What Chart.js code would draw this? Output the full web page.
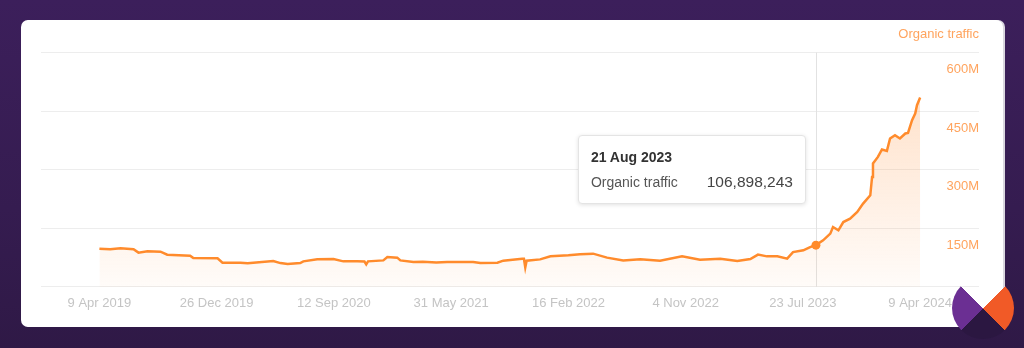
<!DOCTYPE html>
<html>
<head>
<meta charset="utf-8">
<script src="https://cdn.jsdelivr.net/npm/chart.js@4"></script>
<style>
  html, body { margin: 0; padding: 0; }
  body {
    width: 1024px; height: 348px; overflow: hidden; position: relative;
    background: linear-gradient(180deg, #3c1f5b 0%, #351c50 60%, #2f1946 100%);
    font-family: "Liberation Sans", Arial, sans-serif;
  }
  #card {
    position: absolute; left: 21px; top: 20px; width: 982px; height: 307px;
    background: #fff; border-radius: 7px; box-shadow: 2px 0 0 #d9d6de;
  }
  #chart { position: absolute; left: 0; top: 0; }
  #tip {
    position: absolute; display: none; box-sizing: border-box; width: 228px;
    padding: 11px 12px 11px 12px; background: #fff; border: 1px solid #e4e4e4;
    border-radius: 4px; box-shadow: 0 1px 4px rgba(0,0,0,0.12);
  }
  #tip .t { font-size: 14px; font-weight: bold; color: #333; line-height: 20px; margin-bottom: 5px; }
  #tip .r { display: flex; justify-content: space-between; line-height: 20px; }
  #tip .l { font-size: 14px; color: #555; }
  #tip .v { font-size: 15.5px; color: #444; }
  #logo {
    position: absolute; left: 952px; top: 277px; width: 62px; height: 62px; border-radius: 50%;
    background: conic-gradient(from -45deg, transparent 0deg 90deg, #f15a27 90deg 180deg, #2b1741 180deg 270deg, #6b2f93 270deg 360deg);
  }
</style>
</head>
<body>
<div id="card">
  <canvas id="chart" width="982" height="307"></canvas>
  <div id="tip"><div class="t"></div><div class="r"><span class="l"></span><span class="v"></span></div></div>
</div>
<div id="logo"></div>
<script>
// x = days since 9 Apr 2019, values in millions of visits
const startDate = Date.UTC(2019, 3, 9);
const days = [0, 24, 47, 76, 87, 107, 136, 151, 202, 209, 263, 274, 314, 330, 387, 403, 419, 447, 454, 485,
  521, 543, 574, 590, 594, 598, 632, 641, 663, 670, 699, 720, 750, 774, 800, 832, 848, 886, 899, 941,
  945, 948, 951, 981, 1004, 1044, 1070, 1099, 1130, 1166, 1204, 1248, 1297, 1337, 1382, 1420, 1449, 1466, 1486, 1509,
  1531, 1544, 1567, 1582, 1595, 1611, 1627, 1633, 1645, 1656, 1671, 1687, 1700, 1716, 1720, 1722, 1733, 1742, 1753, 1760,
  1771, 1782, 1794, 1800, 1809, 1816, 1820, 1827];
const traffic = [97.9, 96.2, 98.7, 96.2, 87.7, 91.0, 90.3, 82.6, 80.0, 73.8, 73.1, 62.0, 62.0, 60.3, 66.2, 61.0, 58.5, 61.0, 65.4, 70.5,
  71.3, 65.4, 65.4, 65.0, 57.7, 65.4, 67.9, 76.4, 74.9, 67.9, 63.6, 64.5, 62.8, 63.6, 64.0, 63.6, 61.0, 62.0, 67.2, 72.3,
  72.0, 50.0, 67.0, 70.5, 78.2, 80.8, 83.3, 85.1, 74.9, 67.9, 70.5, 67.2, 78.2, 69.7, 72.3, 66.2, 71.3, 82.6, 78.2, 78.2,
  72.3, 89.2, 93.6, 102.0, 106.898243, 119.2, 136.4, 153.3, 144.9, 166.1, 174.9, 191.8, 213.3, 234.6, 281.5, 315.9, 332.8, 351.8, 348.2, 380.0,
  388.4, 380.0, 392.8, 394.3, 426.9, 444.1, 465.4, 485.1];
const seriesName = 'Organic traffic';
const highlightDay = 1595;

const xTickDays = [0, 261, 522, 783, 1044, 1305, 1566, 1827];
const xTickLabels = ['9 Apr 2019', '26 Dec 2019', '12 Sep 2020', '31 May 2021', '16 Feb 2022', '4 Nov 2022', '23 Jul 2023', '9 Apr 2024'];
const yTicks = [0, 150, 300, 450, 600];

const months = ['Jan','Feb','Mar','Apr','May','Jun','Jul','Aug','Sep','Oct','Nov','Dec'];
function fmtDay(d) {
  const dt = new Date(startDate + d * 86400000);
  return dt.getUTCDate() + ' ' + months[dt.getUTCMonth()] + ' ' + dt.getUTCFullYear();
}

// vertical line at hovered point
const crosshair = {
  id: 'crosshair',
  beforeDatasetsDraw(chart) {
    const act = chart.getActiveElements();
    if (!act.length) return;
    const x = act[0].element.x, a = chart.chartArea, ctx = chart.ctx;
    ctx.save();
    ctx.strokeStyle = '#e2e2e2';
    ctx.lineWidth = 1;
    ctx.beginPath();
    ctx.moveTo(Math.round(x) + 0.5, a.top);
    ctx.lineTo(Math.round(x) + 0.5, a.bottom);
    ctx.stroke();
    ctx.restore();
  }
};

function externalTip(context) {
  const tip = document.getElementById('tip');
  const m = context.tooltip;
  if (!m || m.opacity === 0 || !m.dataPoints || !m.dataPoints.length) { tip.style.display = 'none'; return; }
  const p = m.dataPoints[0];
  tip.querySelector('.t').textContent = fmtDay(p.parsed.x);
  tip.querySelector('.l').textContent = seriesName;
  tip.querySelector('.v').textContent = Math.round(p.parsed.y * 1e6).toLocaleString('en-US');
  tip.style.display = 'block';
  tip.style.left = (m.caretX - 10 - tip.offsetWidth) + 'px';
  tip.style.top = (m.caretY - 110) + 'px';
}

const ctx = document.getElementById('chart');
const chart = new Chart(ctx, {
  type: 'line',
  data: {
    datasets: [{
      label: seriesName,
      data: days.map((d, i) => ({ x: d, y: traffic[i] })),
      borderColor: '#ff8b2c',
      borderWidth: 2.5,
      tension: 0,
      pointRadius: 0,
      pointHoverRadius: 4.5,
      pointHoverBackgroundColor: '#ff8b2c',
      pointHoverBorderWidth: 0,
      fill: 'origin',
      backgroundColor: (c) => {
        const a = c.chart.chartArea;
        if (!a) return 'rgba(255,140,50,0.1)';
        const g = c.chart.ctx.createLinearGradient(0, a.top, 0, a.bottom);
        g.addColorStop(0, 'rgba(255,140,50,0.30)');
        g.addColorStop(1, 'rgba(255,140,50,0.03)');
        return g;
      }
    }]
  },
  options: {
    responsive: false,
    animation: false,
    events: [],
    layout: { padding: { left: 20, right: 24, top: 0, bottom: 6.5 } },
    interaction: { mode: 'index', intersect: false },
    scales: {
      x: {
        type: 'linear',
        min: -130,
        max: 1958,
        grid: { display: false, drawTicks: false },
        border: { display: false },
        afterBuildTicks: (axis) => { axis.ticks = xTickDays.map(v => ({ value: v })); },
        ticks: {
          autoSkip: false,
          maxRotation: 0,
          padding: 9,
          color: '#c4c4c4',
          font: { family: 'Liberation Sans', size: 13 },
          callback: (v) => xTickLabels[xTickDays.indexOf(v)]
        }
      },
      y: {
        position: 'right',
        min: 0,
        max: 600,
        afterBuildTicks: (axis) => { axis.ticks = yTicks.map(v => ({ value: v })); },
        grid: { color: '#ededed', drawTicks: false },
        border: { display: false },
        ticks: {
          mirror: true,
          padding: 0,
          labelOffset: 17,
          color: '#ffa45e',
          font: { family: 'Liberation Sans', size: 13 },
          callback: (v) => v === 0 ? '' : v + 'M'
        }
      }
    },
    plugins: {
      legend: { display: false },
      title: {
        display: true,
        text: seriesName,
        align: 'end',
        color: '#ffa45e',
        font: { family: 'Liberation Sans', size: 13, weight: 'normal' },
        padding: { top: 7, bottom: 10 }
      },
      tooltip: { enabled: false, external: externalTip }
    }
  },
  plugins: [crosshair]
});

const hi = [{ datasetIndex: 0, index: days.indexOf(highlightDay) }];
chart.setActiveElements(hi);
chart.tooltip.setActiveElements(hi, { x: 0, y: 0 });
chart.update();
</script>
</body>
</html>
